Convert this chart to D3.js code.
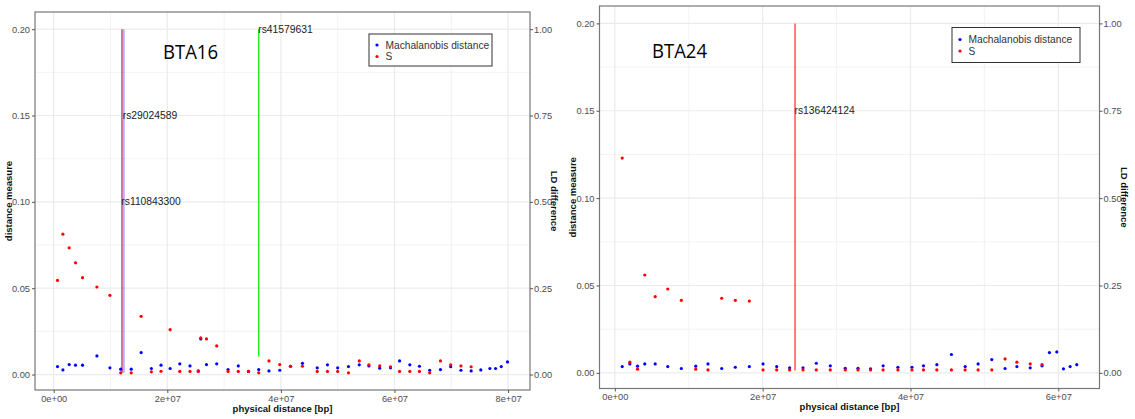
<!DOCTYPE html>
<html><head><meta charset="utf-8">
<script src="https://cdn.jsdelivr.net/npm/d3@7"></script>
<style>
html,body{margin:0;padding:0;background:#fff;}
svg{display:block;font-family:"Liberation Sans",Arial,sans-serif;}
</style></head>
<body>
<svg id="chart" width="1135" height="419"></svg>
<script>
// ---------- BTA16 data (positions in bp) ----------
const bta16Pos = [0.067,0.162,0.273,0.384,0.508,0.761,0.99,1.18,1.365,1.54,1.72,1.89,2.05,2.22,2.40,2.545,2.59,2.69,2.87,3.07,3.25,3.43,3.61,3.79,3.98,4.17,4.38,4.64,4.82,5.0,5.19,5.38,5.55,5.74,5.93,6.09,6.27,6.44,6.62,6.81,6.99,7.17,7.35,7.52,7.68,7.78,7.88,7.99].map(v=>v*1e7);
const bta16S = [0.0545,0.0813,0.0734,0.0647,0.0561,0.0507,0.0459,0.001,0.001,0.0337,0.0016,0.0019,0.026,0.0018,0.0018,0.0018,0.0212,0.0206,0.0166,0.0018,0.0018,0.0018,0.001,0.0079,0.0058,0.0048,0.0048,0.0018,0.0018,0.0018,0.001,0.0079,0.0056,0.005,0.0045,0.0018,0.0018,0.0018,0.001,0.0079,0.0056,0.005,0.0045];
const bta16MD = [0.0046,0.0027,0.0058,0.0054,0.0054,0.0108,0.0039,0.0031,0.0031,0.0127,0.0035,0.0054,0.0035,0.0062,0.005,0.0021,0.0206,0.0058,0.0062,0.0029,0.005,0.0018,0.0029,0.0021,0.0025,0.0048,0.0065,0.0039,0.0056,0.0039,0.0046,0.0056,0.005,0.0037,0.0039,0.0079,0.0056,0.0048,0.0025,0.0029,0.0045,0.0025,0.0021,0.0027,0.0035,0.0035,0.0046,0.0073];
const bta16SnpNames = ["rs29024589","rs110843300","rs41579631"];
const bta16SnpPos = [1.225e7, 1.2e7, 3.61e7];
const bta16SnpLabelY = [0.15, 0.10, 0.20];
const bta16SnpLineLow = [0.001, 0.001, 0.0104];

// ---------- BTA24 data ----------
const bta24Pos = [0.1,0.203,0.307,0.405,0.546,0.716,0.90,1.095,1.26,1.446,1.63,1.82,2.005,2.19,2.365,2.546,2.726,2.915,3.118,3.29,3.46,3.63,3.83,4.02,4.176,4.357,4.554,4.74,4.915,5.1,5.28,5.44,5.62,5.78,5.88,5.98,6.07,6.16,6.25].map(v=>v*1e7);
const bta24S = [0.1229,0.0061,0.0021,0.056,0.0436,0.048,0.0415,0.0021,0.0017,0.0427,0.0415,0.0411,0.0017,0.0017,0.0017,0.0017,0.0017,0.0017,0.0017,0.0017,0.0017,0.0017,0.0017,0.0017,0.0017,0.0017,0.0017,0.0017,0.0017,0.0017,0.008,0.0061,0.0051,0.0047];
const bta24MD = [0.0036,0.0051,0.0038,0.0051,0.0051,0.0036,0.0025,0.0038,0.0051,0.0025,0.0032,0.0036,0.0051,0.0036,0.0029,0.0029,0.0055,0.004,0.0026,0.0026,0.0023,0.004,0.0032,0.0032,0.004,0.0047,0.0105,0.0036,0.0051,0.0076,0.0025,0.0036,0.0029,0.004,0.0116,0.012,0.0023,0.0036,0.0047];
const bta24SnpNames = ["rs136424124"];
const bta24SnpPos = [2.438e7];
const bta24SnpLabelY = [0.15];
const bta24SnpLineLow = [0.0013];

// ---------- shared axis settings ----------
const yTicks = [0, 0.05, 0.10, 0.15, 0.20];
const yMinor = [0.025, 0.075, 0.125, 0.175];
const y2Ticks = [0, 0.25, 0.50, 0.75, 1.00];
const legendLabels = ["Machalanobis distance", "S"];
const xTitle = "physical distance [bp]";
const yTitle = "distance measure";
const y2Title = "LD difference";

const svg = d3.select("#chart");

function panel(cfg) {
  const {pos, sVal, mdVal, snpNames, snpPos, snpLabelY, snpLineLow, snpColors, title, box, xTicks, xMinor, legend, titlePos} = cfg;
  const g = svg.append("g");
  const xmin = d3.min(pos), xmax = d3.max(pos);
  const xr = xmax - xmin;
  const x = d3.scaleLinear().domain([xmin - 0.05*xr, xmax + 0.05*xr]).range([box.x0, box.x1]);
  const ylo = 0.001, yhi = 0.2, yrng = yhi - ylo;
  const y = d3.scaleLinear().domain([ylo - 0.05*yrng, yhi + 0.05*yrng]).range([box.y1, box.y0]);
  const y2 = d3.scaleLinear().domain(y.domain().map(v => v*5)).range([box.y1, box.y0]);

  // grid
  const grid = g.append("g");
  grid.selectAll(".ymin").data(yMinor).join("line")
    .attr("x1", box.x0).attr("x2", box.x1).attr("y1", d=>y(d)).attr("y2", d=>y(d))
    .attr("stroke", "#f0f0f0").attr("stroke-width", 0.8);
  grid.selectAll(".xmin").data(xMinor).join("line")
    .attr("y1", box.y0).attr("y2", box.y1).attr("x1", d=>x(d)).attr("x2", d=>x(d))
    .attr("stroke", "#f0f0f0").attr("stroke-width", 0.8);
  grid.selectAll(".ymaj").data(yTicks).join("line")
    .attr("x1", box.x0).attr("x2", box.x1).attr("y1", d=>y(d)).attr("y2", d=>y(d))
    .attr("stroke", "#ebebeb").attr("stroke-width", 1.2);
  grid.selectAll(".xmaj").data(xTicks).join("line")
    .attr("y1", box.y0).attr("y2", box.y1).attr("x1", d=>x(d)).attr("x2", d=>x(d))
    .attr("stroke", "#ebebeb").attr("stroke-width", 1.2);

  // SNP lines
  snpPos.forEach((p, i) => {
    const c = snpColors[i];
    g.append("line").attr("x1", x(p)).attr("x2", x(p))
      .attr("y1", y(0.2)).attr("y2", y(snpLineLow[i]))
      .attr("stroke", c.color).attr("stroke-width", c.width).attr("opacity", c.opacity);
  });

  // points
  const mdData = mdVal.map((v, i) => [pos[i], v]);
  const sData = sVal.map((v, i) => [pos[i], v]);
  g.append("g").selectAll("circle").data(mdData).join("circle")
    .attr("cx", d=>x(d[0])).attr("cy", d=>y(d[1])).attr("r", 1.6).attr("fill", "#0000ff");
  g.append("g").selectAll("circle").data(sData).join("circle")
    .attr("cx", d=>x(d[0])).attr("cy", d=>y(d[1])).attr("r", 1.6).attr("fill", "#ff0000");

  // SNP labels
  snpNames.forEach((n, i) => {
    g.append("text").attr("x", x(snpPos[i]) - 0.5).attr("y", y(snpLabelY[i]))
      .attr("dy", "0.35em").attr("font-size", 10.3).attr("fill", "#222").text(n);
  });

  // panel border
  g.append("rect").attr("x", box.x0).attr("y", box.y0)
    .attr("width", box.x1 - box.x0).attr("height", box.y1 - box.y0)
    .attr("fill", "none").attr("stroke", "#777").attr("stroke-width", 1.2);

  // axes
  const tickFmt = d3.format(".2f");
  const axL = g.append("g").attr("transform", `translate(${box.x0},0)`)
    .call(d3.axisLeft(y).tickValues(yTicks).tickFormat(tickFmt).tickSize(3).tickPadding(2));
  const axR = g.append("g").attr("transform", `translate(${box.x1},0)`)
    .call(d3.axisRight(y2).tickValues(y2Ticks).tickFormat(tickFmt).tickSize(3).tickPadding(1));
  const expFmt = d => d === 0 ? "0e+00" : (d/1e7) + "e+07";
  const axB = g.append("g").attr("transform", `translate(0,${box.y1})`)
    .call(d3.axisBottom(x).tickValues(xTicks).tickFormat(expFmt).tickSize(3).tickPadding(2));
  [axL, axR, axB].forEach(a => {
    a.select(".domain").remove();
    a.selectAll(".tick line").attr("stroke", "#555");
    a.selectAll(".tick text").attr("fill", "#4d4d4d").attr("font-size", 9.3)
      .attr("font-family", "'Liberation Sans',Arial,sans-serif");
  });

  // axis titles
  g.append("text").attr("x", (box.x0 + box.x1)/2).attr("y", titlePos.xTitleY)
    .attr("text-anchor", "middle").attr("font-weight", "bold").attr("font-size", 9.5)
    .attr("fill", "#111").text(xTitle);
  g.append("text").attr("transform", `translate(${titlePos.yTitleX},${(box.y0+box.y1)/2}) rotate(-90)`)
    .attr("text-anchor", "middle").attr("dy", "0.35em").attr("font-weight", "bold").attr("font-size", 9.5)
    .attr("fill", "#111").text(yTitle);
  g.append("text").attr("transform", `translate(${titlePos.y2TitleX},${(box.y0+box.y1)/2}) rotate(90)`)
    .attr("text-anchor", "middle").attr("dy", "0.35em").attr("font-weight", "bold").attr("font-size", 9.5)
    .attr("fill", "#111").text(y2Title);

  // legend
  g.append("rect").attr("x", legend.x).attr("y", legend.y).attr("width", legend.w).attr("height", legend.h)
    .attr("fill", "#fff").attr("stroke", "#333").attr("stroke-width", 1);
  const lc = ["#0000ff", "#ff0000"];
  legendLabels.forEach((t, i) => {
    const cy = legend.y + legend.dy0 + i*11.5;
    g.append("circle").attr("cx", legend.x + 8).attr("cy", cy).attr("r", 1.6).attr("fill", lc[i]);
    g.append("text").attr("x", legend.x + 16.5).attr("y", cy).attr("dy", "0.35em")
      .attr("font-size", 10.2).attr("fill", "#333").text(t);
  });

  // chromosome title
  g.append("text").attr("x", title.x).attr("y", title.y)
    .attr("font-size", 19.5).attr("fill", "#000")
    .attr("font-family", "'Open Sans','Liberation Sans',Arial,sans-serif")
    .attr("textLength", 55).attr("lengthAdjust", "spacingAndGlyphs")
    .text(title.text);
}

panel({
  pos: bta16Pos, sVal: bta16S, mdVal: bta16MD,
  snpNames: bta16SnpNames, snpPos: bta16SnpPos, snpLabelY: bta16SnpLabelY, snpLineLow: bta16SnpLineLow,
  snpColors: [{color:"#0000ff", width:3, opacity:0.3}, {color:"#ff3030", width:1.5, opacity:0.75}, {color:"#00ee00", width:1.2, opacity:1}],
  title: {text: "BTA16", x: 163, y: 59},
  box: {x0: 35, x1: 530, y0: 12, y1: 390},
  xTicks: [0, 2e7, 4e7, 6e7, 8e7], xMinor: [1e7, 3e7, 5e7, 7e7],
  legend: {x: 369, y: 34, w: 123, h: 32, dy0: 11},
  titlePos: {xTitleY: 411.5, yTitleX: 9, y2TitleX: 554}
});

panel({
  pos: bta24Pos, sVal: bta24S, mdVal: bta24MD,
  snpNames: bta24SnpNames, snpPos: bta24SnpPos, snpLabelY: bta24SnpLabelY, snpLineLow: bta24SnpLineLow,
  snpColors: [{color:"#ff0000", width:1.2, opacity:0.85}],
  title: {text: "BTA24", x: 652, y: 57.5},
  box: {x0: 599.5, x1: 1099.5, y0: 6, y1: 388.5},
  xTicks: [0, 2e7, 4e7, 6e7], xMinor: [1e7, 3e7, 5e7],
  legend: {x: 952, y: 27.5, w: 128, h: 35, dy0: 12},
  titlePos: {xTitleY: 410, yTitleX: 573, y2TitleX: 1124}
});
</script>
</body></html>
